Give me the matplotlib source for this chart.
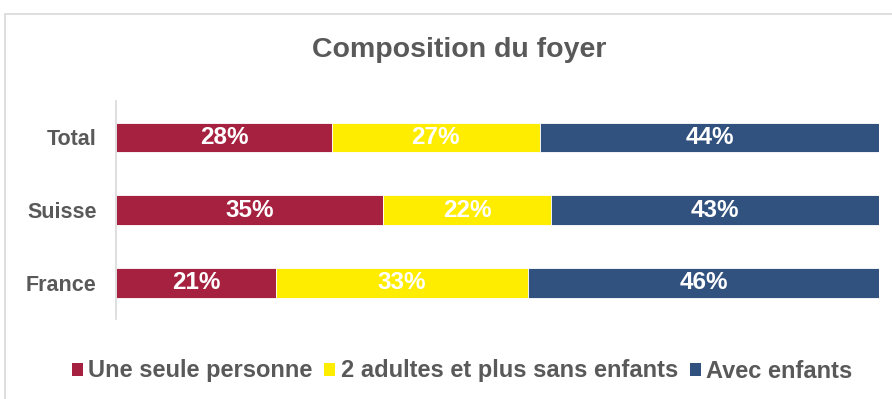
import matplotlib
matplotlib.use("Agg")
import matplotlib.pyplot as plt
from matplotlib.patches import Rectangle
import numpy as np

plt.rcParams['font.family'] = ['Liberation Sans', 'DejaVu Sans']

categories = ["Total", "Suisse", "France"]
series_names = ["Une seule personne", "2 adultes et plus sans enfants", "Avec enfants"]
une_seule = [28, 35, 21]
deux_adultes = [27, 22, 33]
avec_enfants = [44, 43, 46]
colors = ["#A6213F", "#FFED00", "#31517F"]
text_gray = "#595959"

series = [une_seule, deux_adultes, avec_enfants]
values = np.array(series, dtype=float)
totals = values.sum(axis=0)
shares = values / totals  # 100% stacked

fig = plt.figure(figsize=(8.92, 3.99), dpi=100)
fig.patch.set_facecolor("white")

# outer chart frame
fig.add_artist(Rectangle((5 / 892, -0.2), 1.2, 0.2 + (1 - 14 / 399),
                         transform=fig.transFigure, fill=False,
                         edgecolor="#D9D9D9", linewidth=1.2))

ax = fig.add_axes([116 / 892, 0.2005, (879 - 116) / 892, 0.546])
y = np.arange(len(categories))[::-1]  # Total on top
left = np.zeros(len(categories))
for name, share, vals, col in zip(series_names, shares, series, colors):
    ax.barh(y, share, left=left, height=0.41, color=col,
            edgecolor="white", linewidth=0.6, label=name)
    for yi, l, s, v in zip(y, left, share, vals):
        ax.text(l + s / 2, yi, f"{v}%", ha="center", va="center",
                color="white", fontsize=17.5, fontweight="bold")
    left = left + share

ax.set_xlim(0, 1)
ax.set_ylim(-0.5, 2.5)
ax.set_yticks(y)
ax.set_yticklabels(categories, fontsize=15.5, fontweight="bold", color=text_gray)
ax.tick_params(axis="y", length=0, pad=14)
ax.set_xticks([])
for s in ["top", "right", "bottom"]:
    ax.spines[s].set_visible(False)
ax.spines["left"].set_color("#D9D9D9")
ax.spines["left"].set_linewidth(1.2)

fig.text(459 / 892, 1 - 50 / 399, "Composition du foyer", ha="center", va="center",
         fontsize=20.5, fontweight="bold", color=text_gray)

handles, labels = ax.get_legend_handles_labels()
leg = fig.legend(handles, labels, loc="center", bbox_to_anchor=(462 / 892, 1 - 371 / 399),
                 ncol=3, frameon=False, handlelength=0.47, handleheight=0.47,
                 handletextpad=0.22, columnspacing=0.5,
                 prop={"size": 17, "weight": "bold"})
for t in leg.get_texts():
    t.set_color(text_gray)
for h in leg.legend_handles:
    h.set_edgecolor("none")

fig.savefig("out.png", dpi=100, facecolor="white")
